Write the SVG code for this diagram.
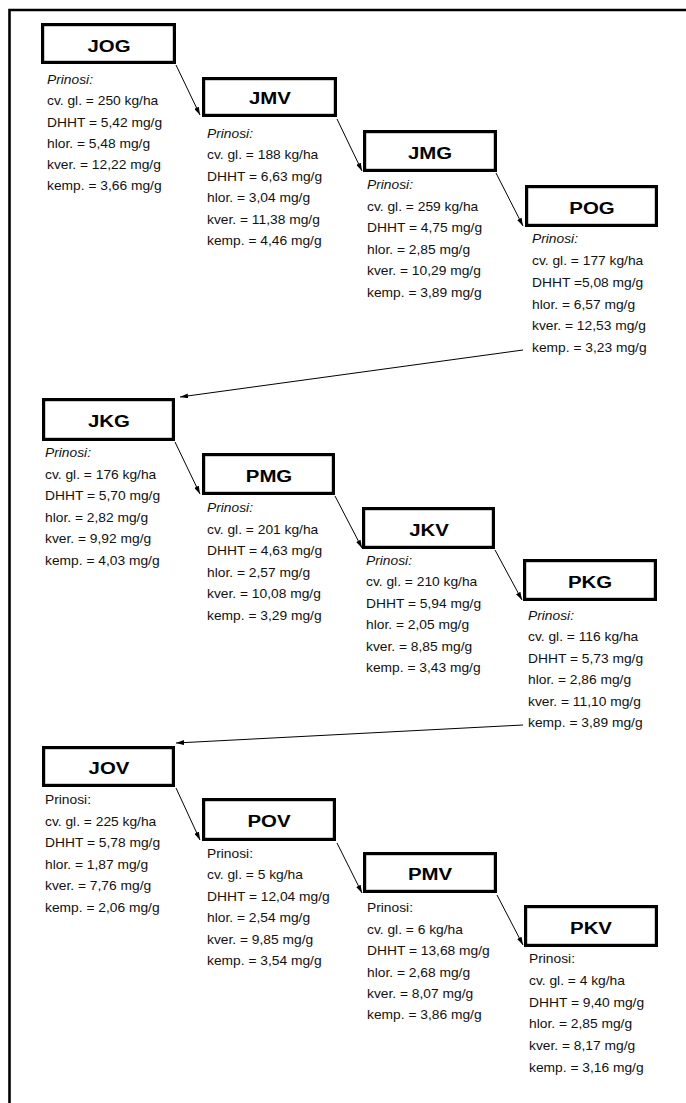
<svg xmlns="http://www.w3.org/2000/svg" width="686" height="1103" viewBox="0 0 686 1103">
<defs>
<marker id="ah" markerWidth="8" markerHeight="5" refX="8" refY="2.5" orient="auto" markerUnits="userSpaceOnUse">
<path d="M0,0 L8,2.5 L0,5 Z" fill="#000"/>
</marker>
<style>
.box{fill:#fff;stroke:#000;stroke-width:3.2}
.title{font-family:"Liberation Sans",Arial,sans-serif;font-weight:bold;font-size:17px;text-anchor:middle;fill:#000}
.t{font-family:"Liberation Sans",Arial,sans-serif;font-size:12px;fill:#111}
.it{font-style:italic}
.c{fill:none;stroke:#000;stroke-width:1;marker-end:url(#ah)}
</style>
</defs>
<rect width="686" height="1103" fill="#fff"/>
<path d="M9.5,1103 V10 H686" fill="none" stroke="#000" stroke-width="2.6"/>

<g id="connectors">
<line class="c" x1="176" y1="65" x2="200" y2="115"/>
<line class="c" x1="337" y1="119" x2="362" y2="171"/>
<line class="c" x1="496" y1="173" x2="523" y2="226"/>
<line class="c" x1="523" y1="350" x2="180" y2="397"/>
<line class="c" x1="175" y1="442" x2="200" y2="494"/>
<line class="c" x1="335" y1="496" x2="362" y2="548"/>
<line class="c" x1="495" y1="550" x2="522" y2="600"/>
<line class="c" x1="523" y1="725" x2="176" y2="743"/>
<line class="c" x1="176" y1="788" x2="200" y2="840"/>
<line class="c" x1="337" y1="843" x2="362" y2="893"/>
<line class="c" x1="497" y1="895" x2="523" y2="945"/>
</g>

<g id="JOG">
<rect class="box" x="42.6" y="24.6" width="131.8" height="37.8"/>
<text class="title" transform="translate(109,52) scale(1.2,1)">JOG</text>
<g class="t" transform="translate(47,0) scale(1.15,1)">
<text class="it" y="84">Prinosi:</text>
<text y="105.3">cv. gl. = 250 kg/ha</text>
<text y="126.6">DHHT = 5,42 mg/g</text>
<text y="147.9">hlor. = 5,48 mg/g</text>
<text y="169.2">kver. = 12,22 mg/g</text>
<text y="190.5">kemp. = 3,66 mg/g</text>
</g>
</g>

<g id="JMV">
<rect class="box" x="203.6" y="78.6" width="131.8" height="36.8"/>
<text class="title" transform="translate(270,104) scale(1.2,1)">JMV</text>
<g class="t" transform="translate(207,0) scale(1.15,1)">
<text class="it" y="138">Prinosi:</text>
<text y="159.4">cv. gl. = 188 kg/ha</text>
<text y="180.8">DHHT = 6,63 mg/g</text>
<text y="202.2">hlor. = 3,04 mg/g</text>
<text y="223.6">kver. = 11,38 mg/g</text>
<text y="245">kemp. = 4,46 mg/g</text>
</g>
</g>

<g id="JMG">
<rect class="box" x="364.6" y="131.6" width="130.8" height="38.8"/>
<text class="title" transform="translate(430,158.5) scale(1.2,1)">JMG</text>
<g class="t" transform="translate(367,0) scale(1.15,1)">
<text class="it" y="189">Prinosi:</text>
<text y="210.6">cv. gl. = 259 kg/ha</text>
<text y="232.2">DHHT = 4,75 mg/g</text>
<text y="253.8">hlor. = 2,85 mg/g</text>
<text y="275.4">kver. = 10,29 mg/g</text>
<text y="297">kemp. = 3,89 mg/g</text>
</g>
</g>

<g id="POG">
<rect class="box" x="526.6" y="186.6" width="129.8" height="38.8"/>
<text class="title" transform="translate(592,213.5) scale(1.2,1)">POG</text>
<g class="t" transform="translate(532,0) scale(1.15,1)">
<text class="it" y="243.5">Prinosi:</text>
<text y="265.2">cv. gl. = 177 kg/ha</text>
<text y="286.9">DHHT =5,08 mg/g</text>
<text y="308.6">hlor. = 6,57 mg/g</text>
<text y="330.3">kver. = 12,53 mg/g</text>
<text y="352">kemp. = 3,23 mg/g</text>
</g>
</g>

<g id="JKG">
<rect class="box" x="43.6" y="399.6" width="129.8" height="39.8"/>
<text class="title" transform="translate(109,427) scale(1.2,1)">JKG</text>
<g class="t" transform="translate(45,0) scale(1.15,1)">
<text class="it" y="457.5">Prinosi:</text>
<text y="479">cv. gl. = 176 kg/ha</text>
<text y="500.5">DHHT = 5,70 mg/g</text>
<text y="522">hlor. = 2,82 mg/g</text>
<text y="543.5">kver. = 9,92 mg/g</text>
<text y="565">kemp. = 4,03 mg/g</text>
</g>
</g>

<g id="PMG">
<rect class="box" x="203.6" y="454.6" width="129.8" height="38.8"/>
<text class="title" transform="translate(269,481.5) scale(1.2,1)">PMG</text>
<g class="t" transform="translate(207,0) scale(1.15,1)">
<text class="it" y="512">Prinosi:</text>
<text y="533.6">cv. gl. = 201 kg/ha</text>
<text y="555.2">DHHT = 4,63 mg/g</text>
<text y="576.8">hlor. = 2,57 mg/g</text>
<text y="598.4">kver. = 10,08 mg/g</text>
<text y="620">kemp. = 3,29 mg/g</text>
</g>
</g>

<g id="JKV">
<rect class="box" x="363.6" y="508.6" width="129.8" height="38.8"/>
<text class="title" transform="translate(429,535.5) scale(1.2,1)">JKV</text>
<g class="t" transform="translate(366,0) scale(1.15,1)">
<text class="it" y="565">Prinosi:</text>
<text y="586.5">cv. gl. = 210 kg/ha</text>
<text y="608">DHHT = 5,94 mg/g</text>
<text y="629.5">hlor. = 2,05 mg/g</text>
<text y="651">kver. = 8,85 mg/g</text>
<text y="672.5">kemp. = 3,43 mg/g</text>
</g>
</g>

<g id="PKG">
<rect class="box" x="524.6" y="560.6" width="130.8" height="38.8"/>
<text class="title" transform="translate(590,587.5) scale(1.2,1)">PKG</text>
<g class="t" transform="translate(528,0) scale(1.15,1)">
<text class="it" y="620">Prinosi:</text>
<text y="641.4">cv. gl. = 116 kg/ha</text>
<text y="662.8">DHHT = 5,73 mg/g</text>
<text y="684.2">hlor. = 2,86 mg/g</text>
<text y="705.6">kver. = 11,10 mg/g</text>
<text y="727">kemp. = 3,89 mg/g</text>
</g>
</g>

<g id="JOV">
<rect class="box" x="43.6" y="747.6" width="129.8" height="37.8"/>
<text class="title" transform="translate(109,774) scale(1.2,1)">JOV</text>
<g class="t" transform="translate(45,0) scale(1.15,1)">
<text y="804">Prinosi:</text>
<text y="825.6">cv. gl. = 225 kg/ha</text>
<text y="847.2">DHHT = 5,78 mg/g</text>
<text y="868.8">hlor. = 1,87 mg/g</text>
<text y="890.4">kver. = 7,76 mg/g</text>
<text y="912">kemp. = 2,06 mg/g</text>
</g>
</g>

<g id="POV">
<rect class="box" x="203.6" y="799.6" width="130.8" height="39.8"/>
<text class="title" transform="translate(269,827) scale(1.2,1)">POV</text>
<g class="t" transform="translate(207,0) scale(1.15,1)">
<text y="858">Prinosi:</text>
<text y="879.5">cv. gl. = 5 kg/ha</text>
<text y="901">DHHT = 12,04 mg/g</text>
<text y="922.5">hlor. = 2,54 mg/g</text>
<text y="944">kver. = 9,85 mg/g</text>
<text y="965.5">kemp. = 3,54 mg/g</text>
</g>
</g>

<g id="PMV">
<rect class="box" x="364.6" y="853.6" width="130.8" height="37.8"/>
<text class="title" transform="translate(430,880) scale(1.2,1)">PMV</text>
<g class="t" transform="translate(367,0) scale(1.15,1)">
<text y="912.5">Prinosi:</text>
<text y="933.9">cv. gl. = 6 kg/ha</text>
<text y="955.3">DHHT = 13,68 mg/g</text>
<text y="976.7">hlor. = 2,68 mg/g</text>
<text y="998.1">kver. = 8,07 mg/g</text>
<text y="1019.5">kemp. = 3,86 mg/g</text>
</g>
</g>

<g id="PKV">
<rect class="box" x="525.6" y="906.6" width="130.8" height="38.8"/>
<text class="title" transform="translate(591,933.5) scale(1.2,1)">PKV</text>
<g class="t" transform="translate(529,0) scale(1.15,1)">
<text y="963">Prinosi:</text>
<text y="984.8">cv. gl. = 4 kg/ha</text>
<text y="1006.6">DHHT = 9,40 mg/g</text>
<text y="1028.4">hlor. = 2,85 mg/g</text>
<text y="1050.2">kver. = 8,17 mg/g</text>
<text y="1072">kemp. = 3,16 mg/g</text>
</g>
</g>
</svg>
